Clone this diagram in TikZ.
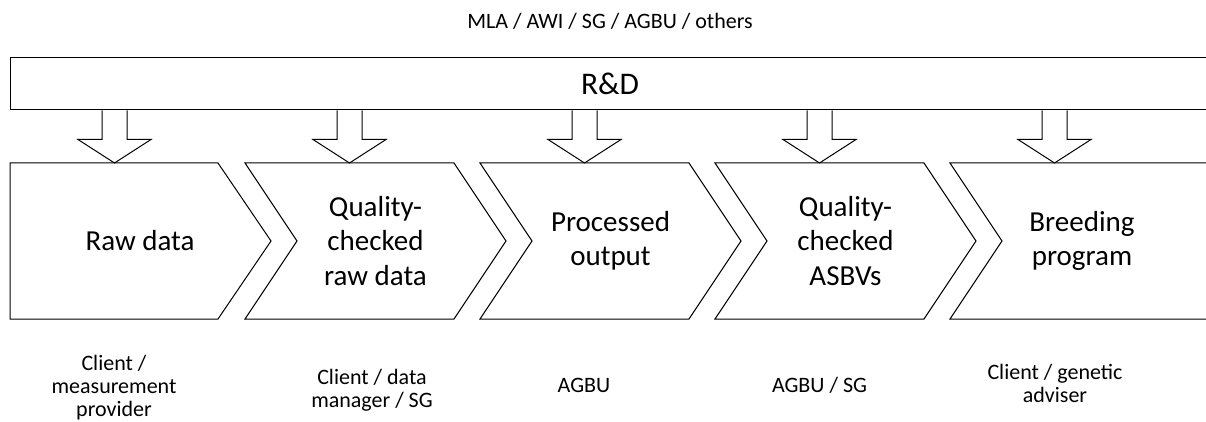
\documentclass[tikz,border=0pt]{standalone}
\usepackage{fontspec}
\setmainfont{Carlito}
\usetikzlibrary{calc}
\begin{document}
\begin{tikzpicture}[x=1pt,y=-1pt, line width=1pt, line join=miter,
  chev/.style={draw, fill=white},
  blk/.style={draw, fill=white},
  lbl/.style={font=\fontsize{22}{23}\selectfont, align=center, inner sep=0pt},
  stxt/.style={font=\fontsize{29}{34.5}\selectfont, align=center, inner sep=0pt}]
\useasboundingbox (0,0) rectangle (1206,422);
\clip (0,0) rectangle (1206,422);
% top label and R&D bar
\node[font=\fontsize{22}{26}\selectfont, inner sep=0pt] (src) at (610,21.5) {MLA / AWI / SG / AGBU / others};
\node[draw, minimum width=1200pt, minimum height=52pt, inner sep=0pt,
      font=\fontsize{31.5}{36}\selectfont] (rd) at (610,84) {R\&D};
% chevrons
\draw[chev] (10,163) -- (218,163) -- (271,241) -- (218,319) -- (10,319) -- cycle;
\foreach \i in {1,2,3} {
  \pgfmathsetmacro\L{10+235*\i}
  \draw[chev] (\L,163) -- ++(209,0) -- ++(52,78) -- ++(-52,78) -- ++(-209,0) -- ++(52,-78) -- cycle;
}
\draw[chev] (950,163) -- (1240,163) -- (1292,241) -- (1240,319) -- (950,319) -- (1002,241) -- cycle;
% chevron texts
\node[stxt] (c1) at (140,241) {Raw data};
\node[stxt] (c2) at (375.5,241) {Quality-\\checked\\raw data};
\node[stxt] (c3) at (610.5,241) {Processed\\output};
\node[stxt] (c4) at (845.5,241) {Quality-\\checked\\ASBVs};
\node[stxt] (c5) at (1082,241) {Breeding\\program};
% block arrows from R&D to each stage
\foreach \i in {0,...,4} {
  \pgfmathsetmacro\cx{114.5+235*\i}
  \coordinate (t\i) at (\cx,163);
  \draw[blk] ($(t\i |- rd.south)+(-12.5,0)$) -- ++(0,29) -- ++(-24,0) -- (t\i)
     -- ($(t\i |- rd.south)+(36.5,29)$) -- ++(-24,0) -- ($(t\i |- rd.south)+(12.5,0)$);
}
% bottom labels
\node[lbl] (l1) at (114,388) {Client /\\measurement\\provider};
\node[lbl] (l2) at (372,390) {Client / data\\manager / SG};
\node[lbl] (l3) at (584,385) {AGBU};
\node[lbl] (l4) at (819.5,385) {AGBU / SG};
\node[lbl] (l5) at (1055,383) {Client / genetic\\adviser};
\end{tikzpicture}
\end{document}
